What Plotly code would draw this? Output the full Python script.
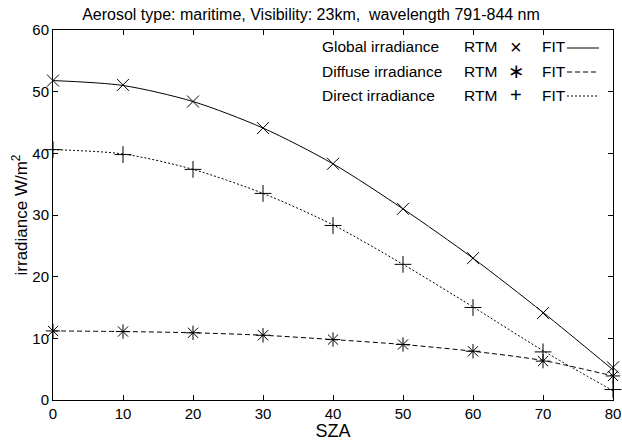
import plotly.graph_objects as go

sza = [0, 10, 20, 30, 40, 50, 60, 70, 80]
global_rtm = [51.8, 51.1, 48.4, 44.1, 38.3, 31.0, 23.0, 14.1, 5.3]
diffuse_rtm = [11.2, 11.1, 10.9, 10.5, 9.8, 9.0, 7.9, 6.3, 3.9]
direct_rtm = [40.6, 39.8, 37.4, 33.5, 28.3, 22.0, 15.0, 7.8, 1.7]

global_fit = [51.8, 51.0, 48.4, 44.1, 38.3, 31.0, 23.0, 14.2, 4.9]
diffuse_fit = [11.2, 11.1, 10.9, 10.5, 9.8, 9.0, 7.9, 6.4, 3.9]
direct_fit = [40.6, 39.9, 37.4, 33.5, 28.4, 22.0, 15.1, 8.0, 1.5]

x_ticks = [0, 10, 20, 30, 40, 50, 60, 70, 80]
y_ticks = [0, 10, 20, 30, 40, 50, 60]

FONT = "Liberation Sans, Arial, sans-serif"
DASH = "5px,3px"
DOT = "2px,2px"

fig = go.Figure()
fits = [(global_fit, "solid"), (diffuse_fit, DASH), (direct_fit, DOT)]
for vals, dash in fits:
    fig.add_trace(go.Scatter(x=sza, y=vals, mode="lines", line=dict(color="black", width=1, dash=dash, shape="spline", smoothing=0.8), showlegend=False, hoverinfo="skip"))
rtms = [(global_rtm, "x-thin-open"), (diffuse_rtm, "asterisk-open"), (direct_rtm, "cross-thin-open")]
for vals, sym in rtms:
    fig.add_trace(go.Scatter(x=sza, y=vals, mode="markers", marker=dict(symbol=sym, size=12, color="black", line=dict(color="black", width=1)), showlegend=False, cliponaxis=False))

L, R, T, B = 53, 613, 30, 400
def px(x):
    return (x - L) / (R - L)
def py(y):
    return (B - y) / (B - T)

rows = [("Global irradiance", "×", "solid", 47), ("Diffuse irradiance", "∗", DASH, 71), ("Direct irradiance", "+", DOT, 95)]
for label, sym, dash, yy in rows:
    fig.add_annotation(x=px(320), y=py(yy), xref="paper", yref="paper", text=label, showarrow=False, xanchor="left", yanchor="middle", font=dict(size=15.5, color="black", family=FONT))
    fig.add_annotation(x=px(462), y=py(yy), xref="paper", yref="paper", text="RTM", showarrow=False, xanchor="left", yanchor="middle", font=dict(size=15.5, color="black", family=FONT))
    fig.add_annotation(x=px(516), y=py(yy), xref="paper", yref="paper", text=sym, showarrow=False, xanchor="center", yanchor="middle", font=dict(size=20, color="black", family="DejaVu Sans, sans-serif" if sym == "∗" else FONT))
    fig.add_annotation(x=px(540), y=py(yy), xref="paper", yref="paper", text="FIT", showarrow=False, xanchor="left", yanchor="middle", font=dict(size=15.5, color="black", family=FONT))
    fig.add_shape(type="line", xref="paper", yref="paper", x0=px(567), x1=px(599), y0=py(yy + 1), y1=py(yy + 1), line=dict(color="black", width=1, dash=dash))

axis_common = dict(showline=True, linecolor="black", linewidth=1, mirror="ticks", ticks="inside", ticklen=5, tickcolor="black", showgrid=False, zeroline=False, automargin=False, tickfont=dict(size=15, color="black", family=FONT))
fig.update_xaxes(range=[0, 80], tickvals=x_ticks, title=dict(text="SZA", font=dict(size=18, color="black", family=FONT), standoff=0), **axis_common)
fig.update_yaxes(range=[0, 60], tickvals=y_ticks, title=dict(text="irradiance W/m<sup>2</sup>", font=dict(size=17, color="black", family=FONT), standoff=0), **axis_common)

fig.update_layout(
    width=622, height=441,
    margin=dict(l=L, r=622 - R, t=T, b=441 - B, autoexpand=False),
    paper_bgcolor="white", plot_bgcolor="white",
    title=dict(text="Aerosol type: maritime, Visibility: 23km,  wavelength 791-844 nm", x=0.5, xanchor="center", y=1 - 14 / 441, yanchor="middle", automargin=False, font=dict(size=16, color="black", family=FONT)),
)
fig.write_html("out.html", config={"displayModeBar": False}, post_script="document.body.style.margin='0px';document.body.style.overflow='hidden';")
